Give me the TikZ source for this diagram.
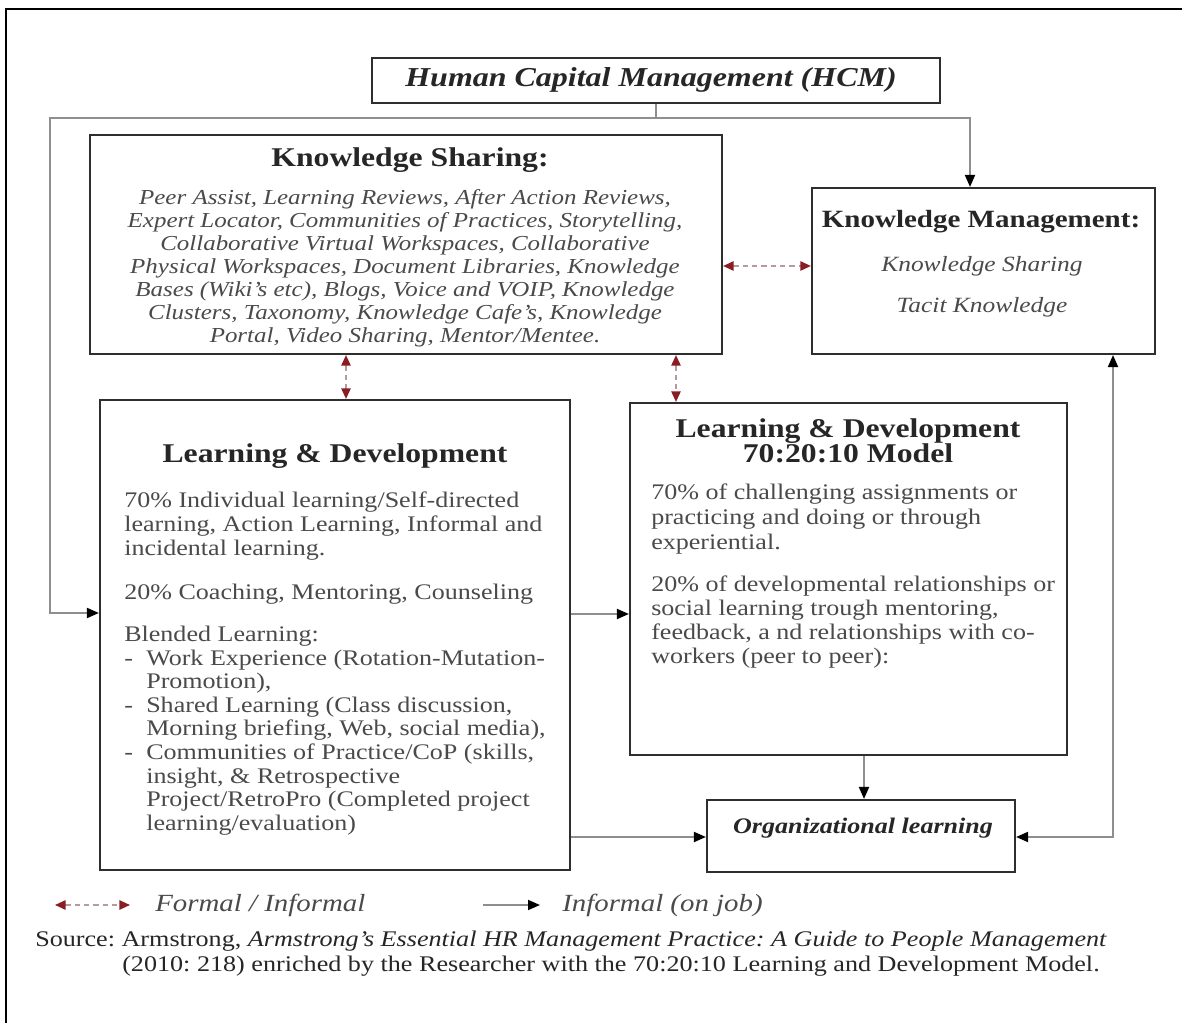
\documentclass[tikz,border=0pt]{standalone}
\usepackage{fontspec}
\setmainfont{Liberation Serif}[FakeStretch=1.17]
\usetikzlibrary{arrows.meta}
\frenchspacing
\definecolor{boxc}{HTML}{2E2E2E}
\definecolor{titlec}{HTML}{262626}
\definecolor{bodyc}{HTML}{4A4A4A}
\definecolor{connc}{HTML}{8E8E8E}
\definecolor{redhead}{HTML}{8A1C24}
\definecolor{reddash}{HTML}{B89A9C}
\begin{document}
\begin{tikzpicture}[x=0.75pt,y=-0.75pt,
  box/.style={draw=boxc,line width=1.6pt,fill=white,inner sep=0pt},
  conn/.style={draw=connc,line width=1.4pt},
  tip/.style={-{Triangle[length=9pt,width=7.5pt,color=black]}},
  redarr/.style={draw=reddash,line width=1.3pt,dash pattern=on 4pt off 3pt,
    {Triangle[length=8pt,width=7pt,color=redhead]}-{Triangle[length=8pt,width=7pt,color=redhead]}},
  ttl/.style={text=titlec,font=\fontsize{20.3}{22}\selectfont\bfseries,inner sep=0pt,align=center},
  body/.style={text=bodyc,inner sep=0pt},
]
\useasboundingbox (0,0) rectangle (1190,1023);
\fill[white] (0,0) rectangle (1190,1023);
% frame
\draw[black,line width=2.2pt] (6,1023) -- (6,9) -- (1182,9);

% boxes
\node[box,minimum width=426pt,minimum height=33.75pt] (hcm) at (656,80.5) {};
\node[box,minimum width=474pt,minimum height=164.25pt] (ks) at (406,244.5) {};
\node[box,minimum width=257.25pt,minimum height=124.5pt] (km) at (983.5,271) {};
\node[box,minimum width=352.5pt,minimum height=352.5pt] (ld) at (335,635) {};
\node[box,minimum width=327.75pt,minimum height=264pt] (ldm) at (848.5,579) {};
\node[box,minimum width=231pt,minimum height=54pt] (ol) at (861,836) {};

% texts
\node[ttl,font=\fontsize{20.5}{22}\selectfont\bfseries\itshape] (hcmt) at (651,80) {Human Capital Management (HCM)};

\node[ttl] (kst) at (410,160) {Knowledge Sharing:};
\node[body,align=center,font=\fontsize{16}{17.25}\selectfont\itshape] (ksb) at (405,268) {Peer Assist, Learning Reviews, After Action Reviews,\\
Expert Locator, Communities of Practices, Storytelling,\\
Collaborative Virtual Workspaces, Collaborative\\
Physical Workspaces, Document Libraries, Knowledge\\
Bases (Wiki's etc), Blogs, Voice and VOIP, Knowledge\\
Clusters, Taxonomy, Knowledge Cafe's, Knowledge\\
Portal, Video Sharing, Mentor/Mentee.};

\node[ttl,font=\fontsize{18.6}{20}\selectfont\bfseries] (kmt) at (981,222) {Knowledge Management:};
\node[body,font=\fontsize{16.3}{18}\selectfont\itshape] (kmb1) at (982,266) {Knowledge Sharing};
\node[body,font=\fontsize{16.3}{18}\selectfont\itshape] (kmb2) at (982,307) {Tacit Knowledge};

\node[ttl] (ldt) at (335,456) {Learning \& Development};
\node[body,anchor=west,align=left,font=\fontsize{16.7}{18}\selectfont] (ldb1) at (124,526) {70\% Individual learning/Self-directed\\
learning, Action Learning, Informal and\\
incidental learning.};
\node[body,anchor=west,font=\fontsize{16.7}{18}\selectfont] (ldb2) at (124,594) {20\% Coaching, Mentoring, Counseling};
\node[body,anchor=west,align=left,font=\fontsize{16.7}{17.7}\selectfont] (ldb3) at (124,730.5) {Blended Learning:\\
\makebox[16.5pt][l]{-}Work Experience (Rotation-Mutation-\\
\hspace*{16.5pt}Promotion),\\
\makebox[16.5pt][l]{-}Shared Learning (Class discussion,\\
\hspace*{16.5pt}Morning briefing, Web, social media),\\
\makebox[16.5pt][l]{-}Communities of Practice/CoP (skills,\\
\hspace*{16.5pt}insight, \& Retrospective\\
\hspace*{16.5pt}Project/RetroPro (Completed project\\
\hspace*{16.5pt}learning/evaluation)};

\node[ttl,font=\fontsize{20.3}{19.2}\selectfont\bfseries] (ldmt) at (848,441) {Learning \& Development\\70:20:10 Model};
\node[body,anchor=west,align=left,font=\fontsize{16.7}{18.4}\selectfont] (ldmb1) at (651,519) {70\% of challenging assignments or\\
practicing and doing or through\\
experiential.};
\node[body,anchor=west,align=left,font=\fontsize{16.7}{18}\selectfont] (ldmb2) at (651,622) {20\% of developmental relationships or\\
social learning trough mentoring,\\
feedback, a nd relationships with co-\\
workers (peer to peer):};

\node[ttl,font=\fontsize{16.7}{18}\selectfont\bfseries\itshape] (olt) at (863,828) {Organizational learning};

% connectors
\coordinate (jl) at (50,118);
\coordinate (jr) at (970,118);
\coordinate (yin) at (0,613);
\draw[conn,tip] (hcm.south) |- (jl) |- (yin -| ld.west);
\draw[conn,tip] (hcm.south) |- (jr) -- (jr |- km.north);

\coordinate (xa) at (346,0);
\coordinate (xb) at (676,0);
\coordinate (yc) at (0,266);
\draw[redarr] (xa |- ks.south) -- (xa |- ld.north);
\draw[redarr] (xb |- ks.south) -- (xb |- ldm.north);
\draw[redarr] (yc -| ks.east) -- (yc -| km.west);

\coordinate (yd) at (0,614);
\coordinate (ye) at (0,837);
\coordinate (xf) at (864,0);
\coordinate (xg) at (1113,0);
\draw[conn,tip] (yd -| ld.east) -- (yd -| ldm.west);
\draw[conn,tip] (xf |- ldm.south) -- (xf |- ol.north);
\draw[conn,tip] (ye -| ld.east) -- (ye -| ol.west);
\draw[conn,{Triangle[length=9pt,width=7.5pt,color=black]}-{Triangle[length=9pt,width=7.5pt,color=black]}] (ye -| ol.east) -| (km.south -| xg);

% legend
\coordinate (lg1a) at (55,905);
\coordinate (lg1b) at (130,905);
\coordinate (lg2a) at (483,905);
\coordinate (lg2b) at (540,905);
\draw[redarr] (lg1a) -- (lg1b);
\draw[conn,tip] (lg2a) -- (lg2b);
\node[body,anchor=west,font=\fontsize{18.5}{20}\selectfont\itshape] (lgt1) at (155,905) {Formal / Informal};
\node[body,anchor=west,font=\fontsize{18.5}{20}\selectfont\itshape] (lgt2) at (562,905) {Informal (on job)};

\node[body,anchor=west,text=titlec,font=\fontsize{16.75}{18}\selectfont] (src1) at (35,941) {Source: Armstrong, \textit{Armstrong's Essential HR Management Practice: A Guide to People Management}};
\node[body,anchor=west,text=titlec,font=\fontsize{16.75}{18}\selectfont] (src2) at (122,966) {(2010: 218) enriched by the Researcher with the 70:20:10 Learning and Development Model.};
\end{tikzpicture}
\end{document}
